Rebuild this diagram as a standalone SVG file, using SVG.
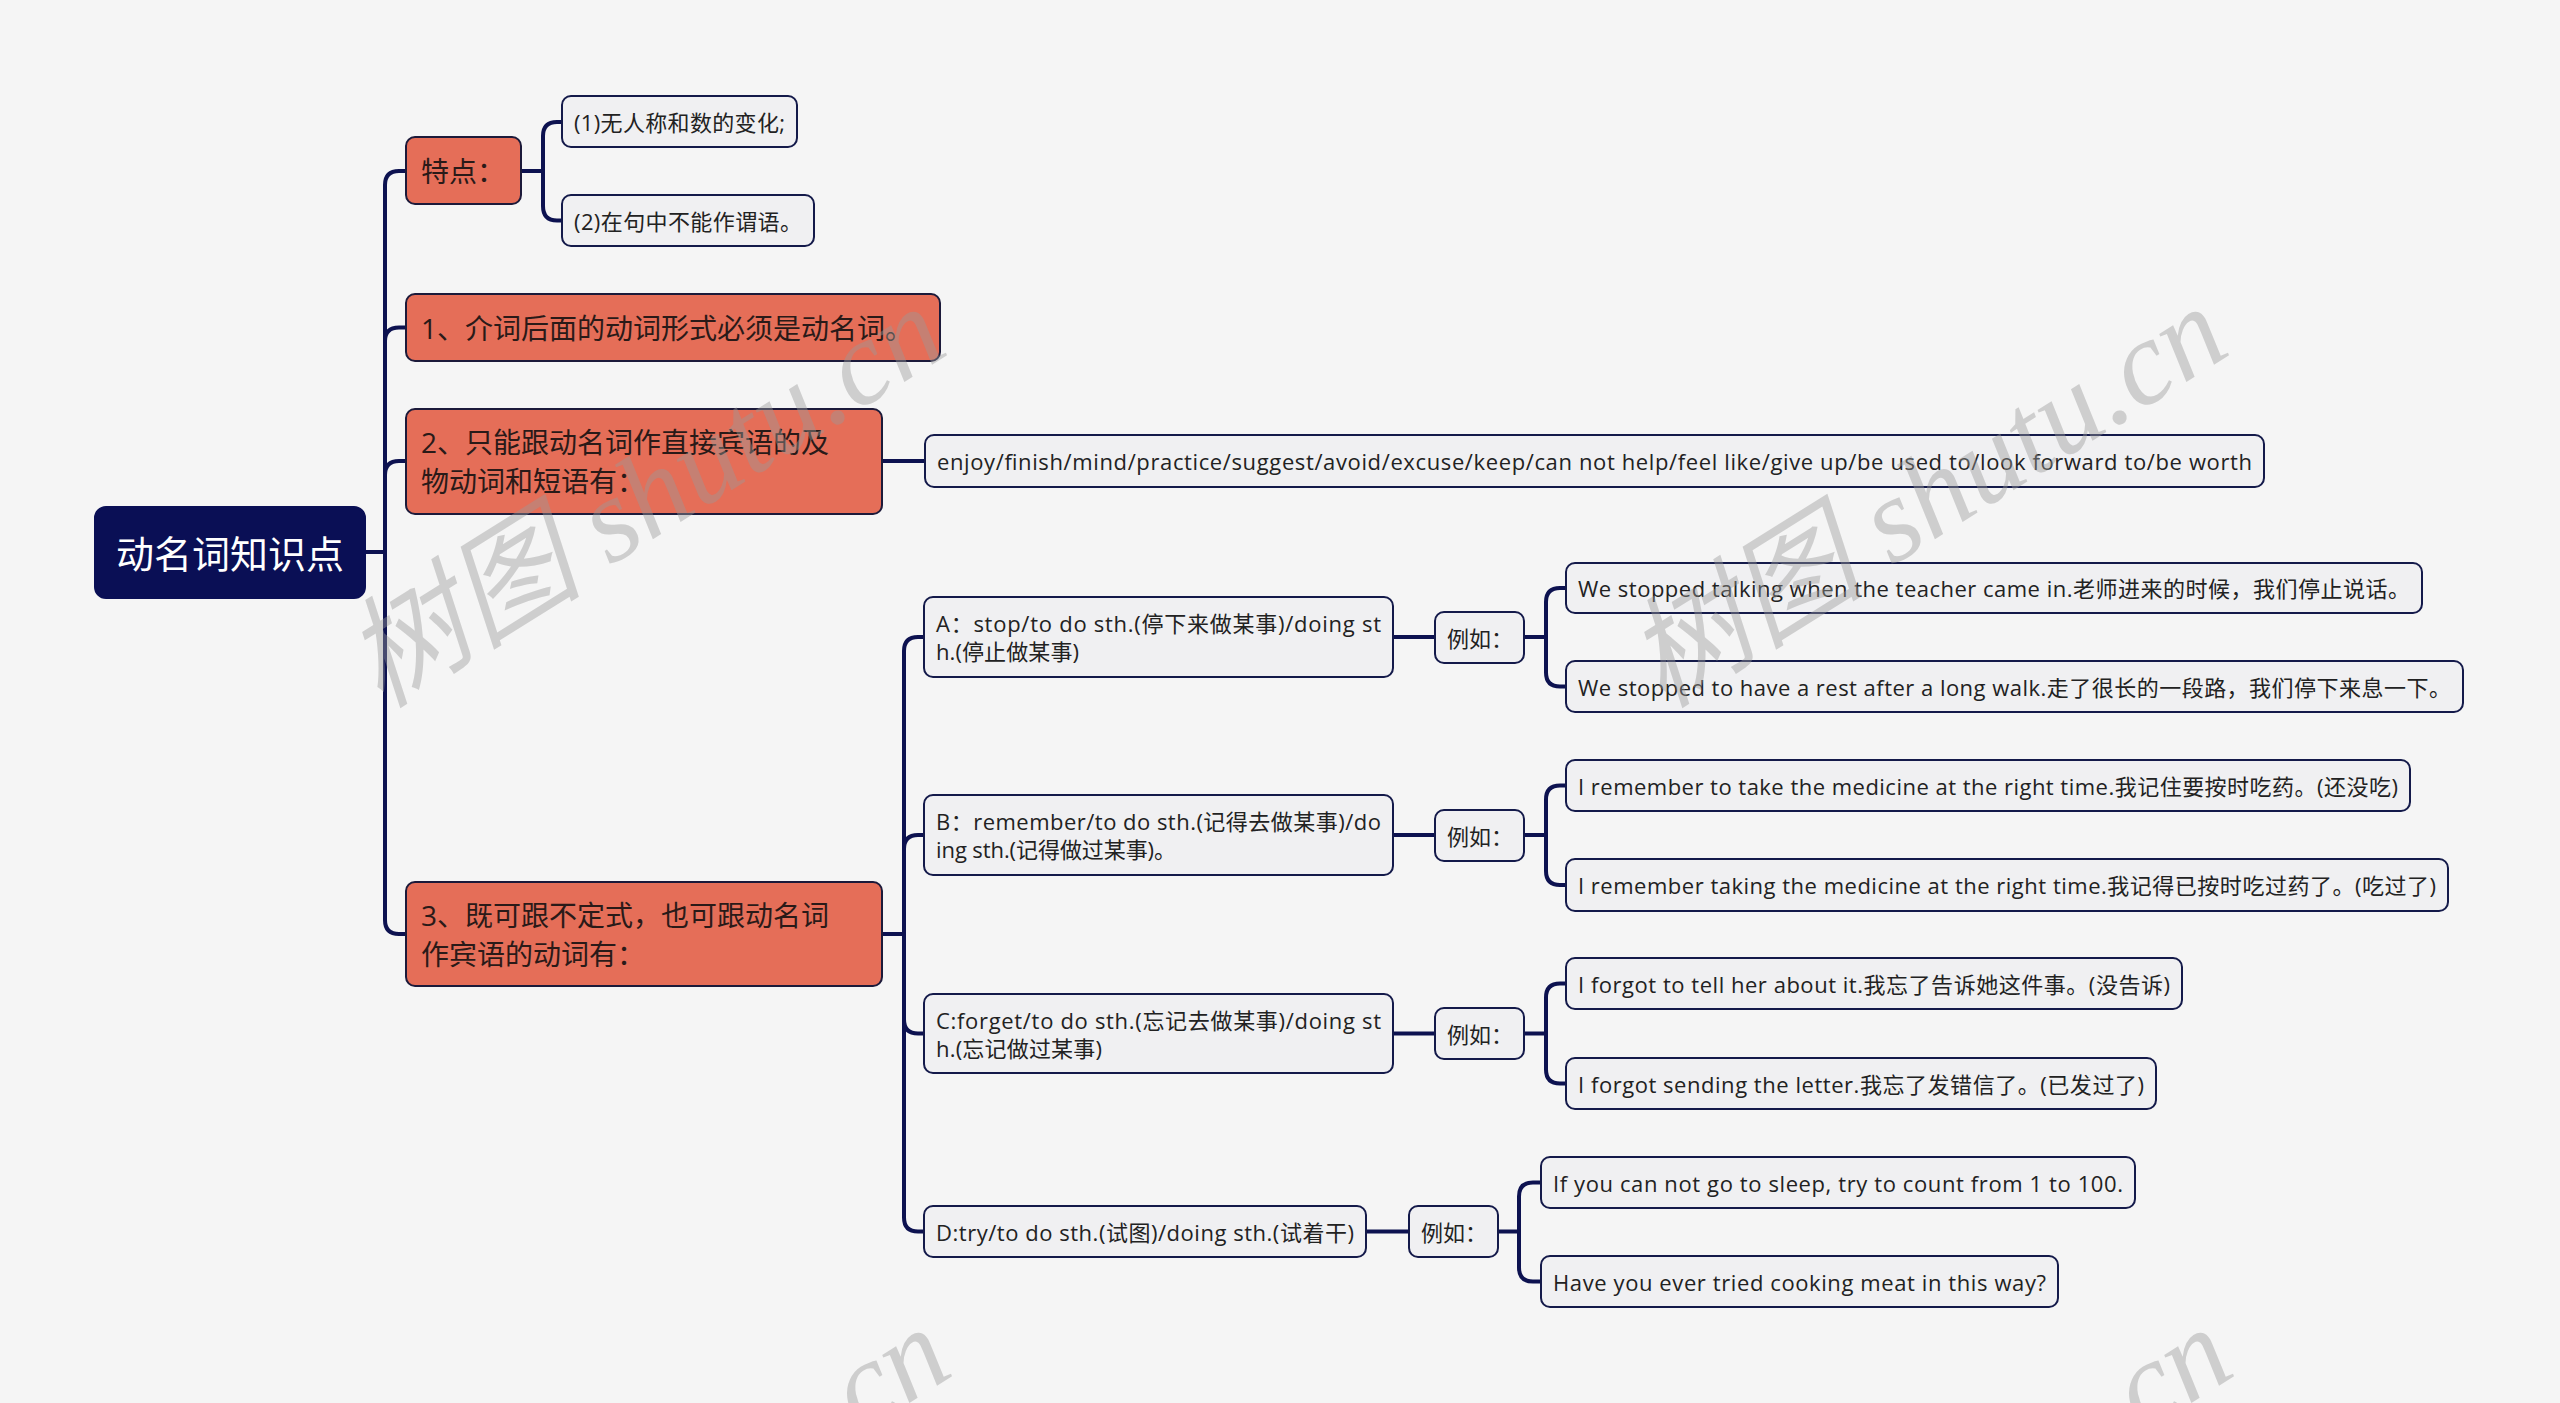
<svg xmlns="http://www.w3.org/2000/svg" width="2560" height="1403" viewBox="0 0 2560 1403">
<style>
.bg{fill:#f5f5f5}
.root rect{fill:#0a0f55;stroke:#0a0f55;stroke-width:2}
.root text{fill:#ffffff;font-size:38px}
.main rect{fill:#e56e58;stroke:#1c1a3a;stroke-width:2}
.main text{fill:#2a1a18;font-size:28px}
.sub rect{fill:#f0f0f2;stroke:#141a4a;stroke-width:2}
.sub text{fill:#222222;font-size:22px}
text{font-family:"Open Sans","Noto Sans CJK SC",sans-serif;dominant-baseline:central}
.conn path{fill:none;stroke:#0d1250;stroke-width:4;stroke-linejoin:round;stroke-linecap:round}
.wm{font-family:"Liberation Serif","Noto Sans CJK SC",serif;font-style:italic;font-size:120px;fill:#9a9a9a;opacity:0.42;dominant-baseline:alphabetic}
</style>
<rect class="bg" x="0" y="0" width="2560" height="1403"/>

<g id="connectors" class="conn">
  <path d="M365,552 H385 V185 Q385,171 399,171 H406"/>
  <path d="M385,341 Q385,327.5 399,327.5 H406"/>
  <path d="M385,475 Q385,461 399,461 H406"/>
  <path d="M385,552 V920 Q385,934 399,934 H406"/>
  <path d="M521,171 H543 V136 Q543,122 557,122 H562"/>
  <path d="M543,171 V206 Q543,220.5 557,220.5 H562"/>
  <path d="M882,461 H925"/>
  <path d="M882,934 H904 V651 Q904,637 918,637 H924"/>
  <path d="M904,849 Q904,835 918,835 H924"/>
  <path d="M904,1019.5 Q904,1033.5 918,1033.5 H924"/>
  <path d="M904,934 V1217.5 Q904,1231.5 918,1231.5 H924"/>
  <path d="M1393,637 H1435"/>
  <path d="M1524,637 H1546 V602 Q1546,588 1560,588 H1566"/>
  <path d="M1546,637 V672.5 Q1546,686.5 1560,686.5 H1566"/>
  <path d="M1393,835 H1435"/>
  <path d="M1524,835 H1546 V799.5 Q1546,785.5 1560,785.5 H1566"/>
  <path d="M1546,835 V871 Q1546,885 1560,885 H1566"/>
  <path d="M1393,1033.5 H1435"/>
  <path d="M1524,1033.5 H1546 V997.5 Q1546,983.5 1560,983.5 H1566"/>
  <path d="M1546,1033.5 V1069.5 Q1546,1083.5 1560,1083.5 H1566"/>
  <path d="M1366,1231.5 H1409"/>
  <path d="M1498,1231.5 H1519 V1196.5 Q1519,1182.5 1533,1182.5 H1541"/>
  <path d="M1519,1231.5 V1267.5 Q1519,1281.5 1533,1281.5 H1541"/>
</g>

<g id="root" class="root">
  <rect x="95" y="507" width="270" height="91" rx="11"/>
  <text x="230" y="553" text-anchor="middle">动名词知识点</text>
</g>

<g id="n-tedian" class="main">
  <rect x="406" y="137" width="115" height="67" rx="9"/>
  <text x="421" y="171">特点：</text>
</g>
<g id="n-1" class="main">
  <rect x="406" y="294" width="534" height="67" rx="9"/>
  <text x="421" y="328">1、介词后面的动词形式必须是动名词。</text>
</g>
<g id="n-2" class="main">
  <rect x="406" y="409" width="476" height="105" rx="9"/>
  <text x="421" y="442">2、只能跟动名词作直接宾语的及</text>
  <text x="421" y="481">物动词和短语有：</text>
</g>
<g id="n-3" class="main">
  <rect x="406" y="882" width="476" height="104" rx="9"/>
  <text x="421" y="915">3、既可跟不定式，也可跟动名词</text>
  <text x="421" y="954">作宾语的动词有：</text>
</g>

<g id="n-t1" class="sub">
  <rect x="562" y="96" width="235" height="51" rx="9"/>
  <text x="574" y="122" textLength="211" lengthAdjust="spacing">(1)无人称和数的变化;</text>
</g>
<g id="n-t2" class="sub">
  <rect x="562" y="195" width="252" height="51" rx="9"/>
  <text x="574" y="221" textLength="228" lengthAdjust="spacing">(2)在句中不能作谓语。</text>
</g>

<g id="n-enjoy" class="sub">
  <rect x="925" y="435" width="1339" height="52" rx="9"/>
  <text x="937" y="461" textLength="1315" lengthAdjust="spacing">enjoy/finish/mind/practice/suggest/avoid/excuse/keep/can not help/feel like/give up/be used to/look forward to/be worth</text>
</g>

<g id="n-A" class="sub">
  <rect x="924" y="597" width="469" height="80" rx="9"/>
  <text x="936" y="623" textLength="445" lengthAdjust="spacing">A：stop/to do sth.(停下来做某事)/doing st</text>
  <text x="936" y="651" textLength="143" lengthAdjust="spacing">h.(停止做某事)</text>
</g>
<g id="n-Aeg" class="sub">
  <rect x="1435" y="612" width="89" height="51" rx="9"/>
  <text x="1447" y="638">例如：</text>
</g>
<g id="n-A1" class="sub">
  <rect x="1566" y="563" width="856" height="50" rx="9"/>
  <text x="1578" y="588" textLength="832" lengthAdjust="spacing">We stopped talking when the teacher came in.老师进来的时候，我们停止说话。</text>
</g>
<g id="n-A2" class="sub">
  <rect x="1566" y="661" width="897" height="51" rx="9"/>
  <text x="1578" y="687" textLength="873" lengthAdjust="spacing">We stopped to have a rest after a long walk.走了很长的一段路，我们停下来息一下。</text>
</g>

<g id="n-B" class="sub">
  <rect x="924" y="795" width="469" height="80" rx="9"/>
  <text x="936" y="821" textLength="445" lengthAdjust="spacing">B：remember/to do sth.(记得去做某事)/do</text>
  <text x="936" y="849" textLength="240" lengthAdjust="spacing">ing sth.(记得做过某事)。</text>
</g>
<g id="n-Beg" class="sub">
  <rect x="1435" y="810" width="89" height="51" rx="9"/>
  <text x="1447" y="836">例如：</text>
</g>
<g id="n-B1" class="sub">
  <rect x="1566" y="760" width="844" height="51" rx="9"/>
  <text x="1578" y="786" textLength="820" lengthAdjust="spacing">I remember to take the medicine at the right time.我记住要按时吃药。(还没吃)</text>
</g>
<g id="n-B2" class="sub">
  <rect x="1566" y="859" width="882" height="52" rx="9"/>
  <text x="1578" y="885" textLength="858" lengthAdjust="spacing">I remember taking the medicine at the right time.我记得已按时吃过药了。(吃过了)</text>
</g>

<g id="n-C" class="sub">
  <rect x="924" y="994" width="469" height="79" rx="9"/>
  <text x="936" y="1020" textLength="445" lengthAdjust="spacing">C:forget/to do sth.(忘记去做某事)/doing st</text>
  <text x="936" y="1048" textLength="166" lengthAdjust="spacing">h.(忘记做过某事)</text>
</g>
<g id="n-Ceg" class="sub">
  <rect x="1435" y="1008" width="89" height="51" rx="9"/>
  <text x="1447" y="1034">例如：</text>
</g>
<g id="n-C1" class="sub">
  <rect x="1566" y="958" width="616" height="51" rx="9"/>
  <text x="1578" y="984" textLength="592" lengthAdjust="spacing">I forgot to tell her about it.我忘了告诉她这件事。(没告诉)</text>
</g>
<g id="n-C2" class="sub">
  <rect x="1566" y="1058" width="590" height="51" rx="9"/>
  <text x="1578" y="1084" textLength="566" lengthAdjust="spacing">I forgot sending the letter.我忘了发错信了。(已发过了)</text>
</g>

<g id="n-D" class="sub">
  <rect x="924" y="1206" width="442" height="51" rx="9"/>
  <text x="936" y="1232" textLength="418" lengthAdjust="spacing">D:try/to do sth.(试图)/doing sth.(试着干)</text>
</g>
<g id="n-Deg" class="sub">
  <rect x="1409" y="1206" width="89" height="51" rx="9"/>
  <text x="1421" y="1232">例如：</text>
</g>
<g id="n-D1" class="sub">
  <rect x="1541" y="1157" width="594" height="51" rx="9"/>
  <text x="1553" y="1183" textLength="570" lengthAdjust="spacing">If you can not go to sleep, try to count from 1 to 100.</text>
</g>
<g id="n-D2" class="sub">
  <rect x="1541" y="1256" width="517" height="51" rx="9"/>
  <text x="1553" y="1282" textLength="493" lengthAdjust="spacing">Have you ever tried cooking meat in this way?</text>
</g>

<g id="watermarks">
  <text class="wm" transform="translate(645,497) rotate(-32)" x="0" y="40" text-anchor="middle">树图 shutu.cn</text>
  <text class="wm" transform="translate(1927,497) rotate(-32)" x="0" y="40" text-anchor="middle">树图 shutu.cn</text>
  <text class="wm" transform="translate(650,1518) rotate(-32)" x="0" y="40" text-anchor="middle">树图 shutu.cn</text>
  <text class="wm" transform="translate(1932,1518) rotate(-32)" x="0" y="40" text-anchor="middle">树图 shutu.cn</text>
</g>
</svg>
